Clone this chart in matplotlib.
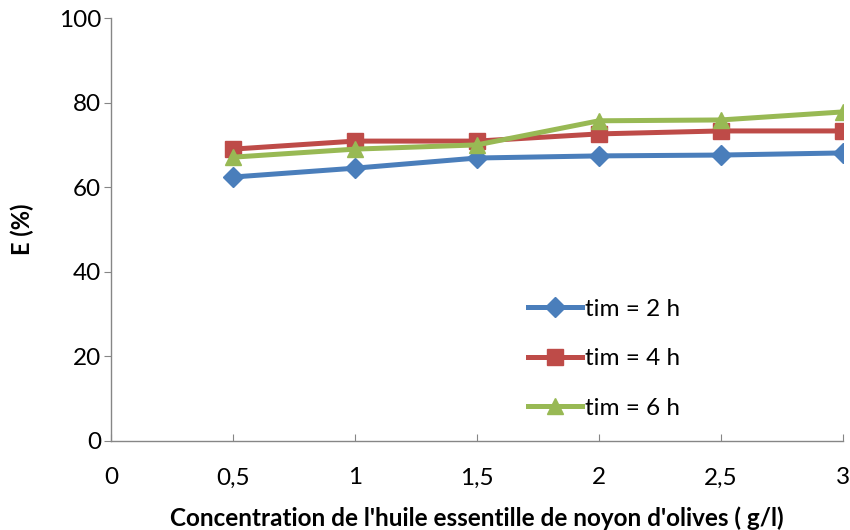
import matplotlib
matplotlib.use("Agg")
import matplotlib.pyplot as plt

plt.rcParams['font.family'] = ['Lato', 'DejaVu Sans']

conc = [0.5, 1, 1.5, 2, 2.5, 3]
e_2h = [62.4, 64.5, 66.9, 67.4, 67.6, 68.1]
e_4h = [69.0, 70.9, 70.9, 72.6, 73.3, 73.3]
e_6h = [67.1, 69.0, 70.0, 75.7, 75.9, 77.8]

xticks = [0, 0.5, 1, 1.5, 2, 2.5, 3]
xticklabels = ['0', '0,5', '1', '1,5', '2', '2,5', '3']
yticks = [0, 20, 40, 60, 80, 100]

fig = plt.figure(figsize=(8.5, 5.3), dpi=100)
ax = fig.add_axes([0.1306, 0.168, 0.861, 0.798])

ax.plot(conc, e_2h, color='#4A7EBB', lw=3.6, marker='D', ms=10, label='tim = 2 h')
ax.plot(conc, e_4h, color='#BE4B48', lw=3.6, marker='s', ms=11, label='tim = 4 h')
ax.plot(conc, e_6h, color='#98B954', lw=3.6, marker='^', ms=12, label='tim = 6 h')

ax.set_xlim(0, 3)
ax.set_ylim(0, 100)
ax.set_xticks(xticks)
ax.set_xticklabels(xticklabels)
ax.set_yticks(yticks)

for s in ['top', 'right']:
    ax.spines[s].set_visible(False)
for s in ['left', 'bottom']:
    ax.spines[s].set_color('#868686')
    ax.spines[s].set_linewidth(1)

ax.tick_params(axis='x', direction='in', length=5, color='#868686', labelsize=17.5, pad=19)
ax.tick_params(axis='y', direction='out', length=5, color='#868686', labelsize=17.5, pad=2)

ax.set_xlabel("Concentration de l'huile essentille de noyon d'olives ( g/l)",
              fontsize=17.5, fontweight='bold', labelpad=13)
ax.set_ylabel('E (%)', fontsize=17, fontweight='bold', labelpad=18)

ax.legend(loc='center left', bbox_to_anchor=(0.54, 0.194), frameon=False,
          fontsize=17.5, handlelength=2.2, labelspacing=1.17, handletextpad=0.15)

fig.savefig('out.png', dpi=100)
